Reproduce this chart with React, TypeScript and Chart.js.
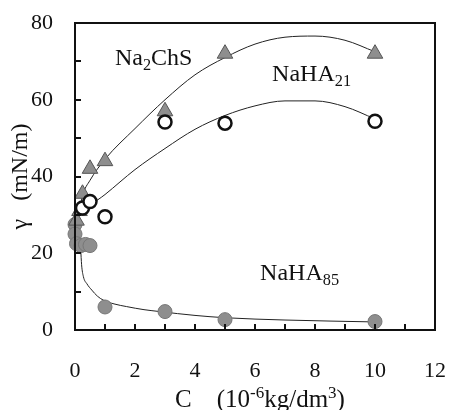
import React, { useEffect, useRef } from "react";
import { Chart, registerables } from "chart.js";

Chart.register(...registerables);

const FONT = '"Liberation Serif", "Times New Roman", serif';

// Axis ranges / ticks
const xRange = [0, 12];
const yRange = [0, 80];
const xMinorTicks = [1, 2, 3, 4, 5, 6, 7, 8, 9, 10, 11];
const yMinorTicks = [10, 20, 30, 40, 50, 60, 70];

// Measured points
const na2chsC = [0.05, 0.15, 0.25, 0.5, 1, 3, 5, 10];
const na2chsGamma = [28.5, 31, 35.5, 42, 44, 57, 72, 72];

const naha21C = [0.25, 0.5, 1, 3, 5, 10];
const naha21Gamma = [31.8, 33.5, 29.5, 54.2, 53.9, 54.4];

const naha85C = [0, 0, 0.05, 0.2, 0.35, 0.5, 1, 3, 5, 10];
const naha85Gamma = [27.5, 25, 22.5, 22, 22.3, 22, 6, 4.8, 2.7, 2.2];

// Fitted curves
const na2chsFitC = [0.15, 0.25, 0.5, 1, 2, 3, 4, 5, 6, 7, 8, 9, 10];
const na2chsFitGamma = [31, 35, 39, 44.5, 52.5, 60, 66.5, 71, 74.5, 76.3, 76.6, 75.5, 72.5];

const naha21FitC = [0.3, 0.5, 1, 2, 3, 4, 5, 6, 7, 8, 9, 10];
const naha21FitGamma = [30.5, 32.3, 35.3, 41.8, 47.3, 52.3, 55.9, 58.4, 59.7, 59.7, 58.2, 55];

const naha85FitC = [0.19, 0.22, 0.28, 0.4, 0.56, 0.75, 0.94, 1.3, 1.72, 2.3, 2.83, 4, 5, 7, 10];
const naha85FitGamma = [21, 17, 13.9, 12, 10.4, 8.8, 7.8, 6.8, 6.1, 5.3, 4.8, 3.8, 3.2, 2.6, 2.1];

const toXY = (xs: number[], ys: number[]) => xs.map((x, i) => ({ x, y: ys[i] }));

type Part = { t: string; mode?: "sub" | "sup" };

function drawRich(ctx: CanvasRenderingContext2D, x: number, y: number, parts: Part[], size: number) {
  let cx = x;
  for (const p of parts) {
    let s = size;
    let dy = 0;
    if (p.mode === "sub") {
      s = size * 0.68;
      dy = size * 0.22;
    } else if (p.mode === "sup") {
      s = size * 0.68;
      dy = -size * 0.38;
    }
    ctx.font = `${s}px ${FONT}`;
    ctx.fillText(p.t, cx, y + dy);
    cx += ctx.measureText(p.t).width;
  }
  return cx - x;
}

function measureRich(ctx: CanvasRenderingContext2D, parts: Part[], size: number) {
  let w = 0;
  for (const p of parts) {
    const s = p.mode ? size * 0.68 : size;
    ctx.font = `${s}px ${FONT}`;
    w += ctx.measureText(p.t).width;
  }
  return w;
}

const decorPlugin = {
  id: "decor",
  afterDatasetsDraw(chart: any) {
    const { ctx, chartArea, scales } = chart;
    const xs = scales.x;
    const ys = scales.y;
    ctx.save();
    // frame
    ctx.strokeStyle = "#111";
    ctx.lineWidth = 2;
    ctx.strokeRect(chartArea.left, chartArea.top, chartArea.right - chartArea.left, chartArea.bottom - chartArea.top);
    // inner ticks
    ctx.beginPath();
    for (const v of xMinorTicks) {
      const px = Math.round(xs.getPixelForValue(v));
      ctx.moveTo(px, chartArea.bottom);
      ctx.lineTo(px, chartArea.bottom - 6);
    }
    for (const v of yMinorTicks) {
      const py = Math.round(ys.getPixelForValue(v));
      ctx.moveTo(chartArea.left, py);
      ctx.lineTo(chartArea.left + 6, py);
    }
    ctx.stroke();

    // series labels
    ctx.fillStyle = "#111";
    ctx.textAlign = "left";
    ctx.textBaseline = "alphabetic";
    drawRich(ctx, xs.getPixelForValue(1.33), ys.getPixelForValue(69), [{ t: "Na" }, { t: "2", mode: "sub" }, { t: "ChS" }], 24);
    drawRich(ctx, xs.getPixelForValue(6.57), ys.getPixelForValue(64.9), [{ t: "NaHA" }, { t: "21", mode: "sub" }], 24);
    drawRich(ctx, xs.getPixelForValue(6.17), ys.getPixelForValue(13), [{ t: "NaHA" }, { t: "85", mode: "sub" }], 24);

    // x axis title
    const xParts: Part[] = [
      { t: "C    (10" },
      { t: "-6", mode: "sup" },
      { t: "kg/dm" },
      { t: "3", mode: "sup" },
      { t: ")" },
    ];
    const w = measureRich(ctx, xParts, 25);
    const cxMid = (chartArea.left + chartArea.right) / 2 + 5;
    drawRich(ctx, cxMid - w / 2, 407, xParts, 25);

    // y axis title
    ctx.save();
    ctx.translate(27, (chartArea.top + chartArea.bottom) / 2);
    ctx.rotate(-Math.PI / 2);
    ctx.font = `24px ${FONT}`;
    ctx.textAlign = "center";
    ctx.fillText("γ   (mN/m)", 0, 0);
    ctx.restore();

    ctx.restore();
  },
};

export default function App() {
  const ref = useRef<HTMLCanvasElement | null>(null);

  useEffect(() => {
    if (!ref.current) return;
    const gray = "#8e8e8e";
    const chart = new Chart(ref.current, {
      type: "scatter",
      data: {
        datasets: [
          {
            label: "Na2ChS",
            data: toXY(na2chsC, na2chsGamma),
            pointStyle: "triangle",
            pointRadius: 9,
            backgroundColor: gray,
            borderColor: "#555",
            borderWidth: 1,
            order: 1,
            clip: false as any,
          },
          {
            label: "NaHA85",
            data: toXY(naha85C, naha85Gamma),
            pointStyle: "circle",
            pointRadius: 7,
            backgroundColor: gray,
            borderColor: "#777",
            borderWidth: 1,
            order: 2,
            clip: false as any,
          },
          {
            label: "NaHA21",
            data: toXY(naha21C, naha21Gamma),
            pointStyle: "circle",
            pointRadius: 6.5,
            backgroundColor: "#fff",
            borderColor: "#111",
            borderWidth: 2.5,
            order: 0,
            clip: false as any,
          },
          {
            label: "fit Na2ChS",
            data: toXY(na2chsFitC, na2chsFitGamma),
            showLine: true,
            pointRadius: 0,
            borderColor: "#222",
            borderWidth: 1,
            cubicInterpolationMode: "monotone",
            order: 5,
          },
          {
            label: "fit NaHA21",
            data: toXY(naha21FitC, naha21FitGamma),
            showLine: true,
            pointRadius: 0,
            borderColor: "#222",
            borderWidth: 1,
            cubicInterpolationMode: "monotone",
            order: 5,
          },
          {
            label: "fit NaHA85",
            data: toXY(naha85FitC, naha85FitGamma),
            showLine: true,
            pointRadius: 0,
            borderColor: "#222",
            borderWidth: 1,
            cubicInterpolationMode: "monotone",
            order: 5,
          },
        ] as any,
      },
      options: {
        animation: false,
        responsive: false,
        events: [],
        layout: { padding: { top: 23, right: 16, left: 0, bottom: 0 } },
        plugins: { legend: { display: false }, tooltip: { enabled: false } },
        scales: {
          x: {
            type: "linear",
            min: xRange[0],
            max: xRange[1],
            grid: { display: false, drawTicks: false },
            border: { display: false },
            ticks: { stepSize: 2, color: "#111", font: { family: FONT, size: 22 }, padding: 28, maxRotation: 0 },
            afterFit: (s: any) => {
              s.height = 80;
              s.paddingLeft = 0;
              s.paddingRight = 0;
            },
          },
          y: {
            type: "linear",
            min: yRange[0],
            max: yRange[1],
            grid: { display: false, drawTicks: false },
            border: { display: false },
            ticks: { stepSize: 20, color: "#111", font: { family: FONT, size: 22 }, padding: 22 },
            afterFit: (s: any) => {
              s.width = 75;
              s.paddingTop = 0;
              s.paddingBottom = 0;
            },
          },
        },
      } as any,
      plugins: [decorPlugin],
    });
    return () => chart.destroy();
  }, []);

  return (
    <div style={{ position: "fixed", left: 0, top: 0, width: 451, height: 410, background: "#fff" }}>
      <canvas ref={ref} width={451} height={410} style={{ display: "block" }} />
    </div>
  );
}
